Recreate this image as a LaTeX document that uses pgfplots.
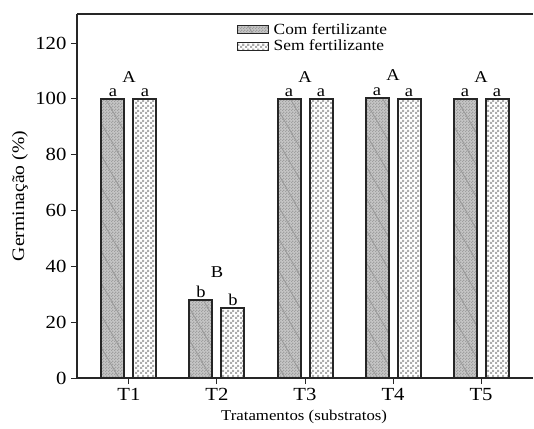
\documentclass[border=0pt]{standalone}
\usepackage{fontspec}
\setmainfont{Liberation Serif}[FakeStretch=1.12]
\usepackage{pgfplots}
\pgfplotsset{compat=1.18}
\usetikzlibrary{patterns,patterns.meta}

\pgfdeclarepatternformonly{checker}{\pgfqpoint{0pt}{0pt}}{\pgfqpoint{5pt}{5pt}}{\pgfqpoint{5pt}{5pt}}{%
  \pgfpathrectangle{\pgfqpoint{0pt}{0pt}}{\pgfqpoint{2.5pt}{2.5pt}}%
  \pgfpathrectangle{\pgfqpoint{2.5pt}{2.5pt}}{\pgfqpoint{2.5pt}{2.5pt}}%
  \pgfusepath{fill}}
\pgfdeclarepatternformonly{finechecker}{\pgfqpoint{0pt}{0pt}}{\pgfqpoint{3pt}{3pt}}{\pgfqpoint{3pt}{3pt}}{%
  \pgfpathrectangle{\pgfqpoint{0pt}{0pt}}{\pgfqpoint{1.5pt}{1.5pt}}%
  \pgfpathrectangle{\pgfqpoint{1.5pt}{1.5pt}}{\pgfqpoint{1.5pt}{1.5pt}}%
  \pgfusepath{fill}}

\pgfplotsset{
  barlegend/.style={legend image code/.code={\draw[##1, line width=1.2pt] (0pt,-4pt) rectangle (31pt,4pt);}},
}

\begin{document}
\begin{tikzpicture}
\path[use as bounding box] (-77pt,-50pt) rectangle (457pt,378pt);
\begin{axis}[
  scale only axis, width=456pt, height=364pt, anchor=south west, at={(0,0)},
  xmin=0.41, xmax=5.59, ymin=0, ymax=130.4,
  axis lines=left, axis line style={-, line width=1.3pt, black!85},
  ybar=9pt, bar width=23pt,
  xtick={1,2,3,4,5}, xticklabels={T1,T2,T3,T4,T5},
  ytick={0,20,...,120},
  tick align=outside, major tick length=6pt, tick style={line width=1pt, black!85},
  ticklabel style={font=\fontsize{18.5}{20}\selectfont},
  yticklabel style={xshift=-1pt},
  /pgf/number format/assume math mode=true,
  xticklabel style={yshift=-1pt},
  every axis x label/.style={at={(axis description cs:0.498,-0.107)}, anchor=center, font=\fontsize{15}{17}\selectfont},
  every axis y label/.style={at={(axis description cs:-0.125,0.5)}, rotate=90, anchor=center, font=\fontsize{17.5}{19}\selectfont},
  xlabel={Tratamentos (substratos)},
  ylabel={Germinação (\%)},
  legend style={at={(0.517,0.985)}, anchor=north, draw=none, fill=none,
    font=\fontsize{15.5}{17}\selectfont, row sep=0pt,
    /tikz/every odd column/.append style={column sep=3pt}},
  legend cell align=left,
  nodes near coords, point meta=explicit symbolic,
  every node near coord/.append style={font=\fontsize{16.5}{18}\selectfont, anchor=south, inner sep=1.2pt, black},
]
\addplot[draw=black!85, line width=2pt, fill=gray!45,
  postaction={pattern=finechecker, pattern color=gray!75},
  postaction={pattern={Lines[angle=-60,distance=16pt,line width=0.8pt]}, pattern color=gray!80},
  barlegend]
  coordinates {(1,100)[a] (2,28)[b] (3,100)[a] (4,100.3)[a] (5,100)[a]};
\addlegendentry{Com fertilizante}
\addplot[draw=black!85, line width=2pt, fill=white,
  postaction={pattern=checker, pattern color=gray!65},
  barlegend]
  coordinates {(1,100)[a] (2,25)[b] (3,100)[a] (4,100)[a] (5,100)[a]};
\addlegendentry{Sem fertilizante}
\draw[line width=1.3pt, black!85] (rel axis cs:0,1) -- (rel axis cs:1,1);
\node[font=\fontsize{16.5}{18}\selectfont, anchor=base] at (axis cs:1,106.0) {A};
\node[font=\fontsize{16.5}{18}\selectfont, anchor=base] at (axis cs:2,36.0) {B};
\node[font=\fontsize{16.5}{18}\selectfont, anchor=base] at (axis cs:3,106.0) {A};
\node[font=\fontsize{16.5}{18}\selectfont, anchor=base] at (axis cs:4,106.4) {A};
\node[font=\fontsize{16.5}{18}\selectfont, anchor=base] at (axis cs:5,106.0) {A};
\end{axis}
\end{tikzpicture}
\end{document}
